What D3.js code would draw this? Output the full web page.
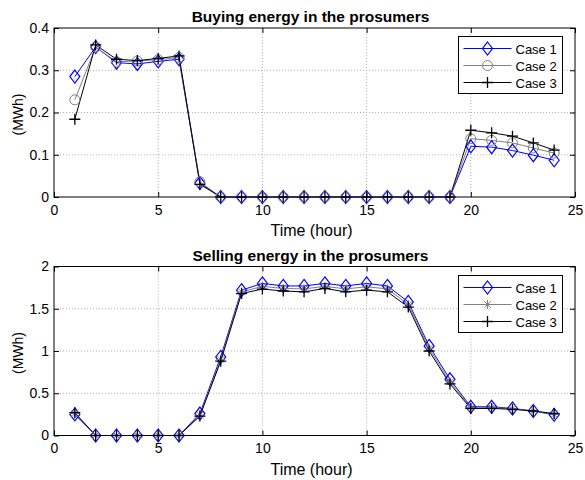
<!DOCTYPE html>
<html>
<head>
<meta charset="utf-8">
<script src="https://cdn.jsdelivr.net/npm/d3@7"></script>
<style>
  body { margin: 0; background: #fff; }
  text { font-family: Arial, "Liberation Sans", sans-serif; }
</style>
</head>
<body>
<svg id="chart" width="585" height="480"></svg>
<script>
// Hours of the day
const hours = d3.range(1, 25);

// Energy bought by the prosumers (MWh)
const buyCase1 = [0.285, 0.355, 0.318, 0.315, 0.321, 0.326, 0.033, 0, 0, 0, 0, 0, 0, 0, 0, 0, 0, 0, 0, 0.120, 0.118, 0.110, 0.099, 0.087];
const buyCase2 = [0.230, 0.355, 0.320, 0.322, 0.325, 0.330, 0.036, 0, 0, 0, 0, 0, 0, 0, 0, 0, 0, 0, 0, 0.138, 0.134, 0.128, 0.116, 0.104];
const buyCase3 = [0.184, 0.360, 0.326, 0.323, 0.328, 0.334, 0.030, 0, 0, 0, 0, 0, 0, 0, 0, 0, 0, 0, 0, 0.158, 0.152, 0.144, 0.128, 0.111];

// Energy sold by the prosumers (MWh)
const sellCase1 = [0.25, 0, 0, 0, 0, 0, 0.26, 0.93, 1.72, 1.80, 1.77, 1.77, 1.80, 1.77, 1.80, 1.77, 1.58, 1.06, 0.665, 0.34, 0.34, 0.32, 0.29, 0.245];
const sellCase2 = [0.26, 0, 0, 0, 0, 0, 0.24, 0.90, 1.70, 1.765, 1.74, 1.735, 1.765, 1.735, 1.76, 1.735, 1.55, 1.03, 0.635, 0.33, 0.33, 0.315, 0.29, 0.25];
const sellCase3 = [0.27, 0, 0, 0, 0, 0, 0.23, 0.88, 1.68, 1.733, 1.71, 1.70, 1.74, 1.70, 1.72, 1.70, 1.52, 1.00, 0.61, 0.32, 0.32, 0.31, 0.29, 0.26];

const xTicks = [0, 5, 10, 15, 20, 25];
const buyTicks = [0, 0.1, 0.2, 0.3, 0.4];
const sellTicks = [0, 0.5, 1, 1.5, 2];
const caseNames = ["Case 1", "Case 2", "Case 3"];

const svg = d3.select("#chart");

// Marker shapes in the MATLAB style
function drawMarker(g, type, x, y, color) {
  if (type === "diamond") {
    g.append("path")
      .attr("d", `M${x},${y - 6.5}L${x + 5},${y}L${x},${y + 6.5}L${x - 5},${y}Z`)
      .attr("fill", "none").attr("stroke", color).attr("stroke-width", 1.2);
  } else if (type === "circle") {
    g.append("circle").attr("cx", x).attr("cy", y).attr("r", 5)
      .attr("fill", "none").attr("stroke", color).attr("stroke-width", 1);
  } else if (type === "plus") {
    g.append("path")
      .attr("d", `M${x - 5.5},${y}H${x + 5.5}M${x},${y - 5.5}V${y + 5.5}`)
      .attr("stroke", color).attr("stroke-width", 1.3);
  } else if (type === "star") {
    const r = 4.5, d = r * 0.72;
    g.append("path")
      .attr("d", `M${x - r},${y}H${x + r}M${x},${y - r}V${y + r}M${x - d},${y - d}L${x + d},${y + d}M${x - d},${y + d}L${x + d},${y - d}`)
      .attr("stroke", color).attr("stroke-width", 1);
  }
}

function panel(cfg) {
  const { top, bottom, left, right, yMax, yTicks, yFmt, title, series, legend } = cfg;
  const x = d3.scaleLinear().domain([0, 25]).range([left, right]);
  const y = d3.scaleLinear().domain([0, yMax]).range([bottom, top]);
  const g = svg.append("g");

  // dotted grid
  const grid = g.append("g").attr("stroke", "#b0b0b0").attr("stroke-dasharray", "1,2").attr("stroke-width", 1);
  xTicks.slice(1, -1).forEach(t => grid.append("line").attr("x1", x(t)).attr("x2", x(t)).attr("y1", top).attr("y2", bottom));
  yTicks.slice(1, -1).forEach(t => grid.append("line").attr("x1", left).attr("x2", right).attr("y1", y(t)).attr("y2", y(t)));

  // axes with inward ticks
  const xAxis = d3.axisBottom(x).tickValues(xTicks).tickSize(-5).tickPadding(8).tickFormat(d3.format("d"));
  const xAxisTop = d3.axisTop(x).tickValues(xTicks).tickSize(-5).tickFormat("");
  const yAxis = d3.axisLeft(y).tickValues(yTicks).tickSize(-5).tickPadding(5).tickFormat(yFmt);
  const yAxisRight = d3.axisRight(y).tickValues(yTicks).tickSize(-5).tickFormat("");
  [[xAxis, `translate(0,${bottom})`], [xAxisTop, `translate(0,${top})`],
   [yAxis, `translate(${left},0)`], [yAxisRight, `translate(${right},0)`]].forEach(([ax, tr]) => {
    const a = g.append("g").attr("transform", tr).call(ax);
    a.select(".domain").remove();
    a.selectAll("line").attr("stroke", "#000");
    a.selectAll("text").attr("font-size", 14).attr("fill", "#000").style("font-family", "Arial, 'Liberation Sans', sans-serif");
  });
  g.append("rect").attr("x", left).attr("y", top).attr("width", right - left).attr("height", bottom - top)
    .attr("fill", "none").attr("stroke", "#000").attr("stroke-width", 1);

  // series lines and markers
  const line = d3.line().x((d, i) => x(hours[i])).y(d => y(d));
  series.forEach(s => {
    g.append("path").datum(s.values).attr("d", line).attr("fill", "none").attr("stroke", s.color).attr("stroke-width", 1);
  });
  series.forEach(s => {
    const mg = g.append("g");
    s.values.forEach((v, i) => drawMarker(mg, s.marker, x(hours[i]), y(v), s.color));
  });

  // titles and labels
  g.append("text").attr("x", (left + right) / 2 - 4).attr("y", top - 6).attr("text-anchor", "middle")
    .attr("font-size", 15.5).attr("font-weight", "bold").text(title);
  g.append("text").attr("x", (left + right) / 2 - 3).attr("y", bottom + 39).attr("text-anchor", "middle")
    .attr("font-size", 16).text("Time (hour)");
  g.append("text").attr("transform", `translate(23,${(top + bottom) / 2 + 2}) rotate(-90)`).attr("text-anchor", "middle")
    .attr("font-size", 14).text("(MWh)");

  // legend
  const lg = g.append("g");
  lg.append("rect").attr("x", legend.x).attr("y", legend.y).attr("width", 104).attr("height", 57)
    .attr("fill", "#fff").attr("stroke", "#000").attr("stroke-width", 1);
  series.forEach((s, i) => {
    const ly = legend.y + 12 + i * 17;
    lg.append("line").attr("x1", legend.x + 5).attr("x2", legend.x + 53).attr("y1", ly).attr("y2", ly)
      .attr("stroke", s.color).attr("stroke-width", 1);
    drawMarker(lg, s.marker, legend.x + 29, ly, s.color);
    lg.append("text").attr("x", legend.x + 57).attr("y", ly + 5).attr("font-size", 13).text(caseNames[i]);
  });
}

panel({
  top: 28, bottom: 197, left: 54, right: 575, yMax: 0.4, yTicks: buyTicks,
  yFmt: d => d === 0 ? "0" : d3.format(".1f")(d),
  title: "Buying energy in the prosumers",
  legend: { x: 458.5, y: 36.5 },
  series: [
    { values: buyCase1, color: "#0000ff", marker: "diamond" },
    { values: buyCase2, color: "#808080", marker: "circle" },
    { values: buyCase3, color: "#000000", marker: "plus" }
  ]
});

panel({
  top: 266.5, bottom: 435.5, left: 54, right: 575, yMax: 2, yTicks: sellTicks,
  yFmt: d => d === 0 ? "0" : String(d),
  title: "Selling energy in the prosumers",
  legend: { x: 458.5, y: 275.5 },
  series: [
    { values: sellCase1, color: "#0000ff", marker: "diamond" },
    { values: sellCase2, color: "#808080", marker: "star" },
    { values: sellCase3, color: "#000000", marker: "plus" }
  ]
});
</script>
</body>
</html>
